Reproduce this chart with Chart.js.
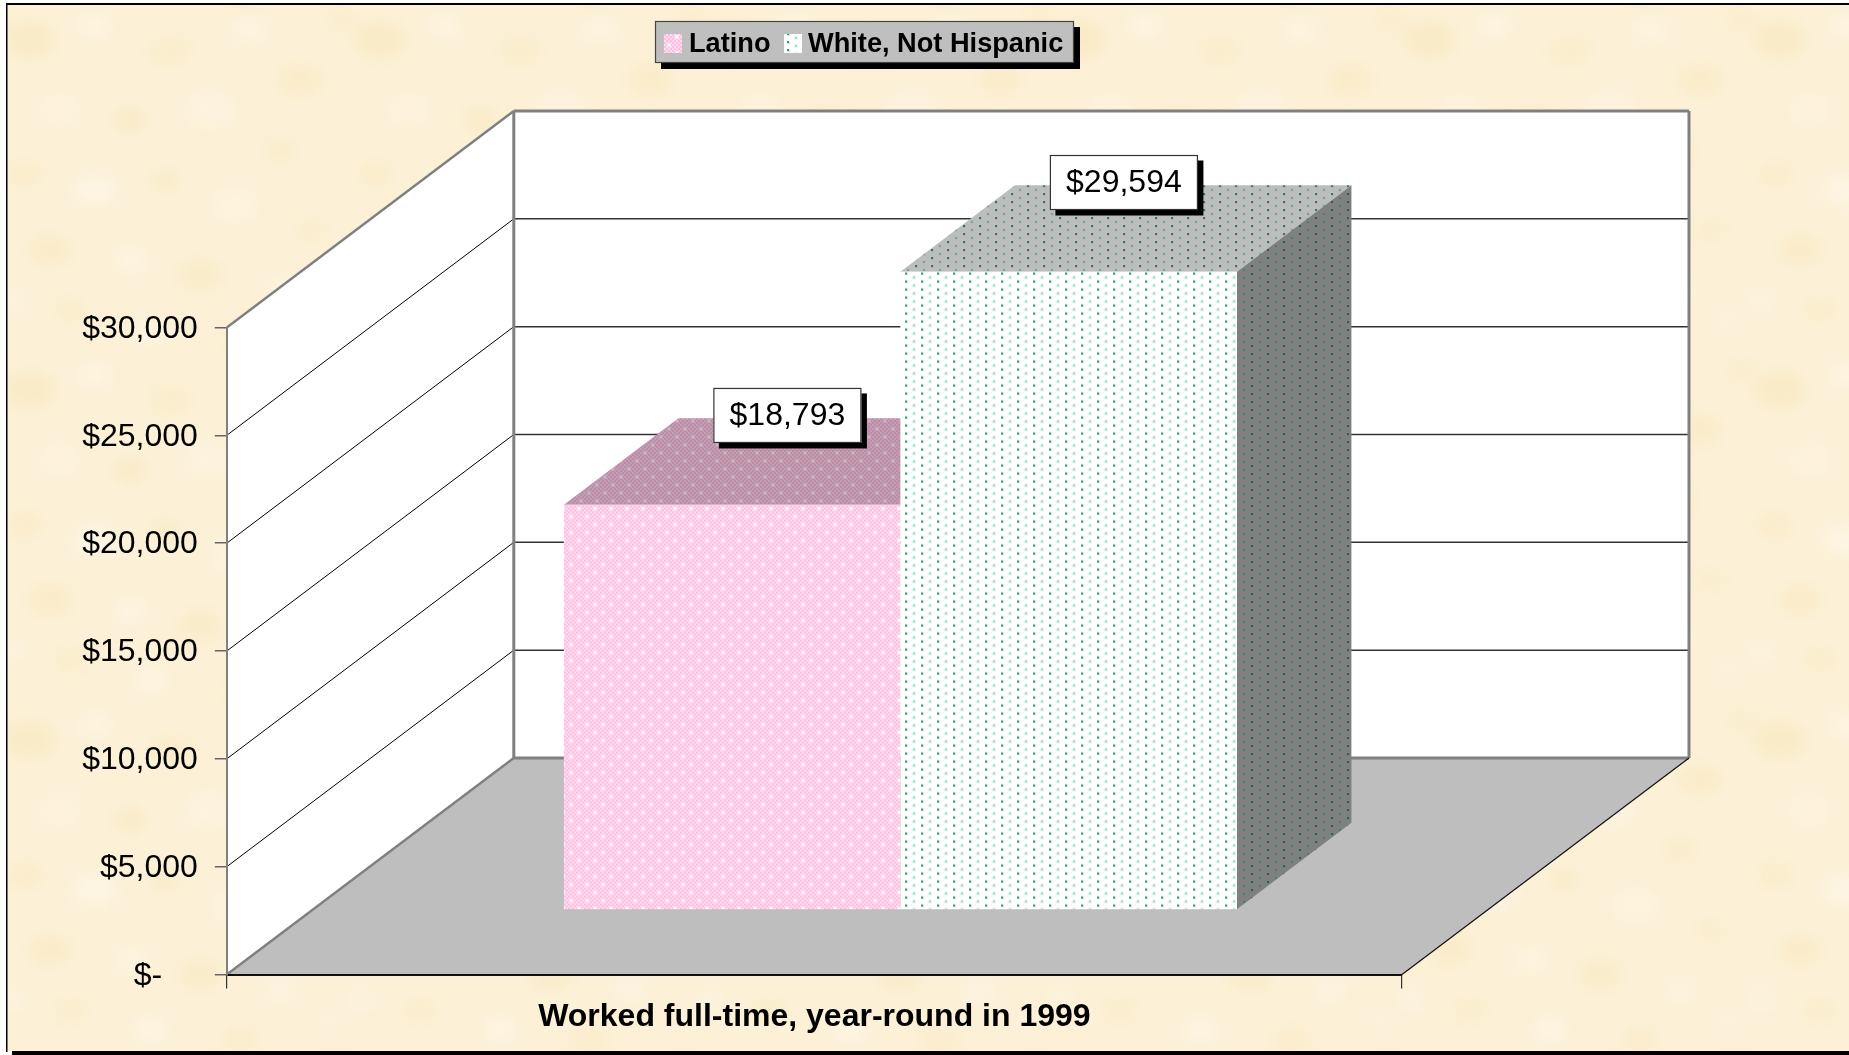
<!DOCTYPE html>
<html>
<head>
<meta charset="utf-8">
<style>html,body{margin:0;padding:0;background:#fff;overflow:hidden}canvas{display:block}</style>
<script src="https://cdn.jsdelivr.net/npm/chart.js@4/dist/chart.umd.min.js"></script>
</head>
<body>
<canvas id="c" width="1849" height="1055"></canvas>
<script>
const categories = ["Worked full-time, year-round in 1999"];
const latino = [18793];
const whiteNotHispanic = [29594];
const seriesNames = ["Latino", "White, Not Hispanic"];
const tickLabels = ["$-    ", "$5,000", "$10,000", "$15,000", "$20,000", "$25,000", "$30,000"];

const FONT = '"Liberation Sans", Arial, sans-serif';
const WALL = {dx: 287, dy: 216.5};
const BAR_PLANE = {dx: 86, dy: 64.5};
const BAR_DEPTH = {dx: 114.5, dy: 86.5};
const parchmentBlobs = [
  [30,40,26,'#f8e8c0'],[95,25,16,'#fff5e6'],[170,50,22,'#f9ebc8'],[250,30,18,'#fef4e4'],
  [300,80,22,'#f9e9c4'],[60,110,20,'#fff3e2'],[130,120,16,'#f8e7c0'],[210,110,24,'#fef3e3'],
  [280,150,16,'#f8e9c6'],[25,175,18,'#f9eac6'],[95,190,22,'#fef5e8'],[165,180,14,'#f8e8c2'],
  [235,205,22,'#fff4e2'],[310,230,16,'#faebc8'],[50,250,22,'#f9e9c4'],[130,260,16,'#fff4e6'],
  [200,275,22,'#f8e9c4'],[280,290,16,'#fef3e4'],[70,310,18,'#f9ebc8'],[150,330,16,'#fff5e8'],
  [240,340,18,'#f9eac6'],[10,300,14,'#fef3e3'],[330,320,14,'#fdf0dc'],[340,20,16,'#f9ebca']
];

function checkerTile(base, alt, dot, arm) {
  const p = document.createElement('canvas');
  p.width = 16; p.height = 16;
  const g = p.getContext('2d');
  g.fillStyle = base; g.fillRect(0, 0, 16, 16);
  g.fillStyle = alt;
  for (let y = 0; y < 16; y += 2) for (let x = 0; x < 16; x += 2)
    if (((x + y) / 2) % 2 === 0) g.fillRect(x, y, 2, 2);
  [[4, 4], [12, 12]].forEach(([x, y]) => {
    g.fillStyle = arm;
    g.fillRect(x - 1, y, 4, 2); g.fillRect(x, y - 1, 2, 4);
    g.fillStyle = dot;
    g.fillRect(x, y, 2, 2);
  });
  return document.createElement('canvas').getContext('2d').createPattern(p, 'repeat');
}
function dotTile(base, crisp, crispHalo, soft, softHalo) {
  const p = document.createElement('canvas');
  p.width = 16; p.height = 8;
  const g = p.getContext('2d');
  g.fillStyle = base; g.fillRect(0, 0, 16, 8);
  g.fillStyle = crispHalo; g.fillRect(3, 1, 3, 3);
  g.fillStyle = crisp; g.fillRect(3, 1, 2, 2);
  g.fillStyle = softHalo; g.fillRect(10, 4, 4, 4);
  g.fillStyle = soft; g.fillRect(11, 5, 2, 2);
  return document.createElement('canvas').getContext('2d').createPattern(p, 'repeat');
}
const pinkFront = checkerTile('#ffbde0', '#ffdcef', '#ffffff', '#ffeef7');
const pinkTop = checkerTile('#bc8ca6', '#c39db2', '#bdbdbd', '#c3a5b5');
const greenFront = dotTile('#ffffff', '#2aa076', '#d2eee2', '#a4dbc4', '#e8f7f1');
const greenTop = dotTile('#bdbdbd', '#2c7d5e', '#a6b6af', '#7ba392', '#b4bcb8');
const greenSide = dotTile('#808080', '#1d6b50', '#727f7a', '#527c6a', '#7a8380');

function poly(ctx, pts, fill) {
  ctx.beginPath();
  pts.forEach((p, i) => i ? ctx.lineTo(p[0], p[1]) : ctx.moveTo(p[0], p[1]));
  ctx.closePath();
  ctx.fillStyle = fill; ctx.fill();
}
function line(ctx, x1, y1, x2, y2, color, lw) {
  ctx.beginPath(); ctx.moveTo(x1, y1); ctx.lineTo(x2, y2);
  ctx.strokeStyle = color; ctx.lineWidth = lw; ctx.stroke();
}
function shadowBox(ctx, x, y, w, h, fill, border, off) {
  ctx.fillStyle = '#000'; ctx.fillRect(x + off, y + off, w, h);
  ctx.fillStyle = fill; ctx.fillRect(x, y, w, h);
  ctx.strokeStyle = border; ctx.lineWidth = 1.2; ctx.strokeRect(x + .5, y + .5, w - 1, h - 1);
}
function parchment(ctx, W, H) {
  const t = document.createElement('canvas');
  t.width = 350; t.height = 350;
  const g = t.getContext('2d');
  g.fillStyle = '#fcf1d7'; g.fillRect(0, 0, 350, 350);
  g.filter = 'blur(8px)';
  g.globalAlpha = 0.75;
  parchmentBlobs.forEach(([x, y, r, c]) => {
    g.fillStyle = c;
    [[0,0],[350,0],[0,350],[-350,0],[0,-350]].forEach(([ox, oy]) => {
      g.beginPath(); g.ellipse(x + ox, y + oy, r, r * .7, 0, 0, 7); g.fill();
    });
  });
  g.filter = 'none';
  g.globalAlpha = 1;
  ctx.fillStyle = ctx.createPattern(t, 'repeat');
  ctx.fillRect(7, 4, W - 7, H - 8);
}

const scene3d = {
  id: 'scene3d',
  beforeDraw(chart) {
    const ctx = chart.ctx, a = chart.chartArea, y = chart.scales.y;
    const W = chart.width, H = chart.height;
    ctx.save();
    parchment(ctx, W, H);
    ctx.fillStyle = '#000';
    ctx.fillRect(6, 3, W - 6, 2);
    ctx.fillRect(6, 3, 1.5, H - 6);
    ctx.fillRect(12, H - 4, W - 12, 4);

    const L = a.left, R = a.right, T = a.top, B = a.bottom, dx = WALL.dx, dy = WALL.dy;
    poly(ctx, [[L, T], [L + dx, T - dy], [L + dx, B - dy], [L, B]], '#fff');
    poly(ctx, [[L + dx, T - dy], [R + dx, T - dy], [R + dx, B - dy], [L + dx, B - dy]], '#fff');
    poly(ctx, [[L, B], [L + dx, B - dy], [R + dx, B - dy], [R, B]], '#bebebe');
    tickLabels.forEach((_, i) => {
      if (i === 0 || i === tickLabels.length - 1) return;
      const py = y.getPixelForValue(y.ticks[i].value);
      line(ctx, L, py, L + dx, py - dy, '#000', 1);
      line(ctx, L + dx, py - dy, R + dx, py - dy, '#333', 1.5);
    });
    line(ctx, L, T, L + dx, T - dy, '#808080', 2.4);
    line(ctx, L + dx, T - dy, R + dx, T - dy, '#808080', 3);
    line(ctx, L + dx, T - dy, L + dx, B - dy, '#808080', 3);
    line(ctx, R + dx, T - dy, R + dx, B - dy, '#808080', 3);
    line(ctx, L + dx, B - dy, R + dx, B - dy, '#808080', 3);
    line(ctx, L, B, L + dx, B - dy, '#808080', 2.4);
    line(ctx, R, B, R + dx, B - dy, '#111', 1.2);
    ctx.restore();
  },
  beforeDatasetsDraw(chart) {
    const ctx = chart.ctx, d = BAR_DEPTH, o = BAR_PLANE;
    ctx.save();
    const faces = [[0, pinkTop, null], [1, greenTop, greenSide]];
    faces.forEach(([di, top, side]) => {
      const b = chart.getDatasetMeta(di).data[0];
      const l = b.x - b.width / 2 + o.dx, r = b.x + b.width / 2 + o.dx;
      const t = b.y - o.dy, bs = b.base - o.dy;
      poly(ctx, [[l, t], [l + d.dx, t - d.dy], [r + d.dx, t - d.dy], [r, t]], top);
      if (side) poly(ctx, [[r, t], [r + d.dx, t - d.dy], [r + d.dx, bs - d.dy], [r, bs]], side);
    });
    ctx.restore();
    ctx.save();
    ctx.translate(o.dx, -o.dy);
  },
  afterDatasetsDraw(chart) {
    const ctx = chart.ctx, d = BAR_DEPTH, o = BAR_PLANE;
    ctx.restore();
    ctx.save();
    [latino, whiteNotHispanic].forEach((vals, di) => {
      const b = chart.getDatasetMeta(di).data[0];
      const cx = b.x + o.dx + d.dx / 2 - 2, cy = b.y - o.dy - d.dy / 2 - 46;
      shadowBox(ctx, cx - 74, cy - 27.5, 148, 55, '#fff', '#333', 5.5);
      ctx.fillStyle = '#000';
      ctx.font = '32px ' + FONT;
      ctx.textAlign = 'center'; ctx.textBaseline = 'middle';
      ctx.fillText('$' + vals[0].toLocaleString('en-US'), cx, cy + 0.8);
    });
    shadowBox(ctx, 655, 21, 419, 42, '#bfbfbf', '#444', 6);
    ctx.font = 'bold 27.2px ' + FONT;
    ctx.textAlign = 'left'; ctx.textBaseline = 'middle';
    ctx.fillStyle = pinkFront; ctx.fillRect(664, 34, 18, 19);
    ctx.fillStyle = greenFront; ctx.fillRect(784, 34, 18, 19);
    ctx.fillStyle = '#000';
    ctx.fillText(seriesNames[0], 689, 44.5);
    ctx.fillText(seriesNames[1], 808, 44.5);
    ctx.restore();
  }
};

new Chart(document.getElementById('c'), {
  type: 'bar',
  data: {
    labels: categories,
    datasets: [
      {label: seriesNames[0], data: latino, backgroundColor: pinkFront, borderWidth: 0},
      {label: seriesNames[1], data: whiteNotHispanic, backgroundColor: greenFront, borderWidth: 0}
    ]
  },
  plugins: [scene3d],
  options: {
    responsive: false,
    animation: false,
    layout: {padding: {left: 0, right: 447, top: 327.5, bottom: 0}},
    categoryPercentage: 0.5727,
    barPercentage: 1,
    plugins: {legend: {display: false}, tooltip: {enabled: false}, title: {display: false}},
    scales: {
      x: {
        afterFit: s => { s.height = 80.5; },
        grid: {drawOnChartArea: false, drawTicks: true, tickLength: 14, color: '#333', lineWidth: 1.2, offset: true},
        border: {display: true, color: '#111', width: 2},
        ticks: {color: '#000', font: {family: FONT, size: 32, weight: 'bold'}, padding: 9, maxRotation: 0, autoSkip: false}
      },
      y: {
        min: 0, max: 30000,
        afterFit: s => { s.width = 226.8; },
        grid: {drawOnChartArea: false, drawTicks: true, tickLength: 12, color: '#666', lineWidth: 1.5},
        border: {display: true, color: '#808080', width: 2},
        ticks: {stepSize: 5000, color: '#000', font: {family: FONT, size: 32}, padding: 17, labelOffset: 1.5,
                callback: (v, i) => tickLabels[i]}
      }
    }
  }
});
</script>
</body>
</html>
